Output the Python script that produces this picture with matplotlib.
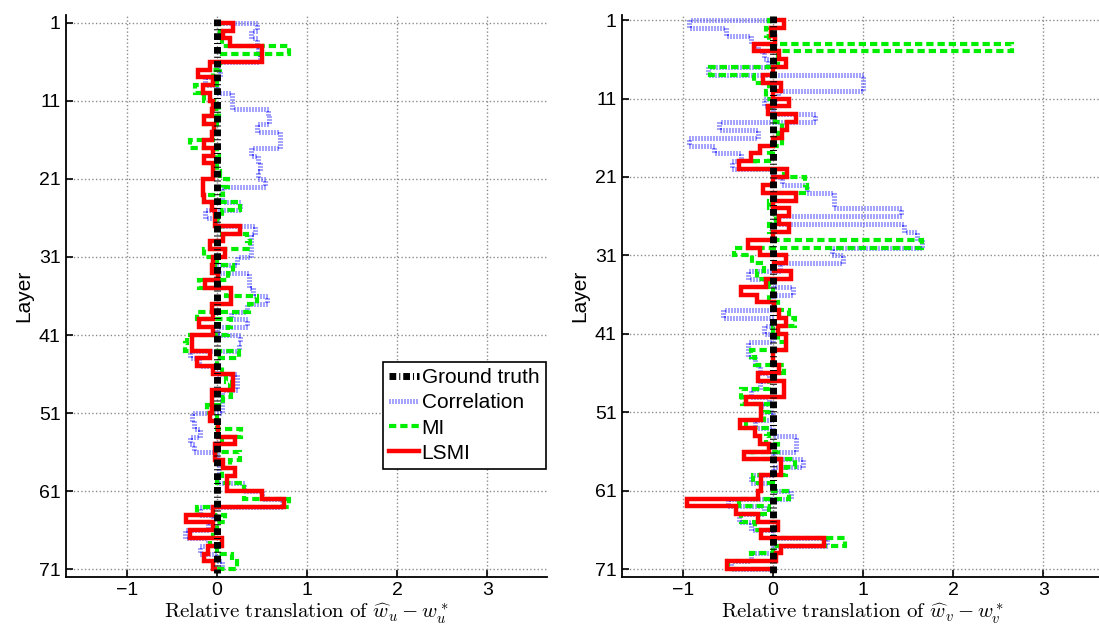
import numpy as np
import matplotlib
matplotlib.use('Agg')
import matplotlib.pyplot as plt

plt.rcParams['font.family'] = ['Liberation Sans', 'DejaVu Sans']
plt.rcParams['mathtext.fontset'] = 'cm'

# layer edges: each value covers one layer interval
edges = np.arange(1, 72)
gt_edges = np.arange(0.5, 72)
ground_truth = np.zeros(71)

# left panel (w_u)
corr_u = [0.44, 0.38, 0.44, 0.45, 0.48, 0.0, 0.03, -0.13, 0.0, 0.17,
          0.17, 0.57, 0.58, 0.44, 0.7, 0.7, 0.38, 0.45, 0.48, 0.46,
          0.53, 0.05, 0.05, 0.25, -0.13, 0.0, 0.42, 0.38, 0.38, 0.38,
          0.22, 0.0, 0.35, 0.35, 0.4, 0.55, 0.33, 0.16, 0.33, 0.0,
          0.26, 0.24, -0.3, -0.2, 0.0, 0.22, 0.22, 0.05, 0.05, 0.05,
          -0.28, -0.26, -0.19, -0.3, -0.26, 0.0, 0.02, 0.02, 0.0, 0.3,
          0.5, 0.72, -0.19, -0.05, -0.1, -0.35, -0.1, -0.19, 0.0, 0.05]
mi_u = [0.05, 0.03, 0.05, 0.8, 0.05, 0.03, -0.04, 0.0, -0.25, -0.15,
        0.0, 0.02, -0.14, 0.0, -0.05, -0.3, 0.0, 0.02, 0.0, 0.03,
        0.12, 0.07, -0.15, 0.26, 0.05, 0.0, 0.05, 0.33, 0.37, -0.15,
        0.0, 0.18, 0.12, -0.2, 0.1, 0.44, 0.35, -0.22, 0.16, 0.12,
        -0.33, -0.35, 0.24, 0.0, 0.05, 0.1, 0.14, 0.15, 0.07, -0.11,
        0.0, 0.0, 0.27, 0.05, 0.0, 0.25, 0.14, 0.05, 0.0, 0.3,
        0.3, 0.8, -0.22, 0.09, 0.0, -0.05, -0.08, 0.0, 0.17, 0.22]
lsmi_u = [0.18, 0.07, 0.14, 0.5, 0.5, -0.08, -0.21, -0.04, -0.16, -0.08,
          -0.04, -0.06, -0.14, -0.03, -0.06, -0.14, -0.04, -0.14, -0.04, -0.04,
          -0.16, -0.16, -0.15, -0.06, -0.02, -0.02, 0.26, 0.07, -0.08, 0.09,
          -0.04, -0.06, 0.01, -0.13, 0.16, 0.16, -0.06, -0.04, -0.2, -0.04,
          -0.28, -0.28, -0.08, -0.22, -0.04, 0.18, 0.18, -0.06, -0.06, -0.06,
          -0.08, 0.01, 0.01, 0.2, -0.02, -0.02, 0.07, 0.2, 0.11, 0.11,
          0.5, 0.74, -0.04, -0.34, -0.04, -0.3, 0.05, -0.1, -0.15, -0.04]

# right panel (w_v)
corr_v = [-0.93, -0.52, -0.25, -0.17, -0.1, -0.06, -0.72, 1.0, 1.0, 0.05,
          -0.1, 0.0, 0.47, -0.6, -0.17, -0.93, -0.65, -0.35, -0.45, 0.0,
          0.1, 0.38, 0.68, 0.68, 1.42, 0.05, 1.45, 1.6, 1.65, 0.65,
          0.78, 0.08, -0.28, 0.0, 0.22, 0.0, 0.0, -0.56, 0.0, -0.1,
          0.0, -0.28, -0.28, -0.2, -0.15, -0.05, -0.15, -0.25, -0.05, -0.13,
          0.0, -0.2, 0.0, 0.25, 0.25, 0.0, 0.33, 0.0, -0.25, 0.0,
          0.2, -0.5, -0.1, -0.38, -0.25, 0.0, 0.6, 0.0, -0.25, -0.47]
mi_v = [-0.05, -0.08, -0.04, 2.65, 0.05, 0.05, -0.7, -0.21, -0.05, -0.08,
        0.0, -0.03, 0.02, 0.1, 0.05, 0.1, 0.0, -0.05, -0.2, 0.12,
        0.35, 0.38, 0.02, -0.05, 0.0, 0.03, -0.05, 0.0, 1.65, -0.43,
        -0.23, -0.1, -0.18, -0.05, 0.0, -0.05, 0.05, 0.18, 0.24, 0.0,
        0.05, 0.14, -0.25, -0.2, 0.12, 0.02, -0.05, -0.36, -0.34, -0.05,
        -0.1, -0.3, -0.05, -0.08, 0.05, -0.23, 0.24, 0.14, -0.22, 0.0,
        0.18, -0.38, -0.05, -0.35, -0.2, 0.0, 0.8, 0.0, -0.25, -0.5]
lsmi_v = [0.12, -0.02, 0.02, -0.21, 0.07, 0.14, 0.0, -0.11, 0.09, 0.0,
          0.18, -0.06, 0.26, 0.16, 0.1, 0.0, -0.15, -0.25, -0.38, 0.15,
          0.0, -0.11, 0.26, 0.0, 0.18, 0.07, 0.18, 0.0, -0.28, -0.15,
          0.14, 0.01, 0.2, -0.08, -0.36, -0.18, 0.01, 0.07, 0.14, 0.05,
          0.14, 0.14, 0.0, 0.0, 0.07, -0.17, 0.12, 0.12, -0.3, -0.13,
          -0.13, -0.37, -0.2, -0.15, -0.04, -0.32, 0.09, 0.09, -0.13, -0.13,
          -0.17, -0.95, -0.41, -0.17, 0.05, -0.13, 0.57, 0.09, 0.03, -0.51]

layer_ticks = [1, 11, 21, 31, 41, 51, 61, 71]
x_ticks = [-1, 0, 1, 2, 3]

fig = plt.figure(figsize=(10.99, 6.29), dpi=100)
W, H = 1099, 629
ax1 = fig.add_axes([65.7 / W, 1 - 577 / H, 481 / W, 562 / H])
ax2 = fig.add_axes([621.7 / W, 1 - 577 / H, 481 / W, 562 / H])


def draw_panel(ax, corr, mi, lsmi, sub, ytop):
    ax.stairs(corr, edges, orientation='horizontal', baseline=0,
              color=(0.3, 0.3, 1.0), linewidth=3.6, linestyle=(0, (0.2, 0.4)),
              zorder=2, label='Correlation')
    ax.stairs(mi, edges, orientation='horizontal', baseline=0,
              color='#00ee00', linewidth=3, linestyle=(0, (1.75, 0.95)),
              zorder=3, label='MI')
    ax.stairs(lsmi, edges, orientation='horizontal', baseline=0,
              color='#ff0000', linewidth=3.2, zorder=4, label='LSMI')
    ax.stairs(ground_truth, gt_edges, orientation='horizontal', baseline=0,
              color='black', linewidth=5, linestyle=(0, (0.97, 0.43, 0.15, 0.43)),
              zorder=5, label='Ground truth')
    ax.set_xlim(-1.68, 3.66)
    ax.set_ylim(72, ytop)
    ax.set_yticks(layer_ticks)
    ax.set_xticks(x_ticks)
    ax.grid(True, linestyle=':', color='0.55', linewidth=1)
    ax.set_axisbelow(True)
    ax.spines['top'].set_visible(False)
    ax.spines['right'].set_visible(False)
    ax.spines['left'].set_linewidth(1.3)
    ax.spines['bottom'].set_linewidth(1.3)
    ax.tick_params(direction='in', length=5, width=1.2, labelsize=14)
    ax.set_ylabel('Layer', fontsize=15, labelpad=4)
    ax.set_xlabel(r'$\mathrm{Relative\ translation\ of\ }\widehat{w}_%s - w_%s^*$' % (sub, sub),
                  fontsize=15, labelpad=2)


draw_panel(ax1, corr_u, mi_u, lsmi_u, 'u', 0)
draw_panel(ax2, corr_v, mi_v, lsmi_v, 'v', 0.35)

handles, labels = ax1.get_legend_handles_labels()
order = [3, 0, 1, 2]
leg = ax1.legend([handles[i] for i in order], [labels[i] for i in order],
                 loc='upper left', bbox_to_anchor=(0.66, 0.383), borderaxespad=0,
                 fontsize=15, handlelength=1.4, handletextpad=0.15,
                 labelspacing=0.3, borderpad=0.3, fancybox=False,
                 edgecolor='black', framealpha=1)
leg.get_frame().set_linewidth(1.2)

fig.savefig('out.png', dpi=100)
